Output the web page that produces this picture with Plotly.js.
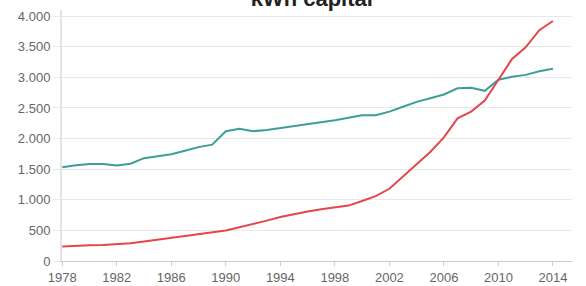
<!DOCTYPE html>
<html>
<head>
<meta charset="utf-8">
<script src="https://cdn.plot.ly/plotly-3.0.1.min.js"></script>
<style>html,body{margin:0;padding:0;background:#fff;}#chart{width:586px;height:286px;}</style>
</head>
<body>
<div id="chart"></div>
<script>
const years = [1978,1979,1980,1981,1982,1983,1984,1985,1986,1987,1988,1989,1990,1991,1992,1993,1994,1995,1996,1997,1998,1999,2000,2001,2002,2003,2004,2005,2006,2007,2008,2009,2010,2011,2012,2013,2014];
const tealSeries = [1530,1565,1585,1585,1560,1590,1680,1715,1745,1800,1860,1900,2120,2160,2120,2140,2170,2210,2240,2265,2300,2340,2380,2380,2440,2520,2600,2660,2720,2820,2830,2780,2960,3010,3040,3100,3140];
const redSeries = [235,250,257,262,275,290,320,350,385,415,445,475,500,550,600,660,720,770,810,845,870,905,980,1060,1180,1380,1580,1780,2020,2330,2440,2620,2960,3300,3490,3770,3920];
const xTicks = [1978,1982,1986,1990,1994,1998,2002,2006,2010,2014];
const yTicks = [0,500,1000,1500,2000,2500,3000,3500,4000];
const titleText = 'kWh capital';

const traces = [
  {x: years, y: tealSeries, type: 'scatter', mode: 'lines', line: {color: '#3d9e99', width: 2}, hoverinfo: 'skip'},
  {x: years, y: redSeries, type: 'scatter', mode: 'lines', line: {color: '#e2474c', width: 2}, hoverinfo: 'skip'}
];

const layout = {
  width: 586, height: 286,
  margin: {l: 62, r: 14, t: 10, b: 25, pad: 0},
  paper_bgcolor: '#ffffff', plot_bgcolor: '#ffffff',
  showlegend: false,
  separators: ',.',
  font: {family: 'Liberation Sans, Arial, sans-serif', size: 13, color: '#666'},
  title: {text: titleText, x: 0.532, xanchor: 'center', yref: 'container', y: 0.979, yanchor: 'bottom',
          font: {family: 'Liberation Sans, Arial, sans-serif', size: 22, color: '#222', weight: 'bold'}},
  xaxis: {
    range: [1977.98, 2015.4], tickvals: xTicks, ticktext: xTicks.map(String),
    showgrid: false, zeroline: false, showline: true, linecolor: '#cccccc', linewidth: 1,
    ticks: 'outside', ticklen: 4, tickcolor: '#cccccc',
    tickfont: {size: 13, color: '#666'}
  },
  yaxis: {
    range: [0, 4100], tickvals: yTicks, separatethousands: true, tickformat: ',d',
    showgrid: true, gridcolor: '#e8e8e8', gridwidth: 1, zeroline: false,
    showline: true, linecolor: '#e3e3e3', linewidth: 2,
    ticks: 'outside', ticklen: 7, tickcolor: '#e8e8e8',
    tickfont: {size: 13, color: '#666'}
  }
};

Plotly.newPlot('chart', traces, layout, {displayModeBar: false, staticPlot: true});
</script>
</body>
</html>
